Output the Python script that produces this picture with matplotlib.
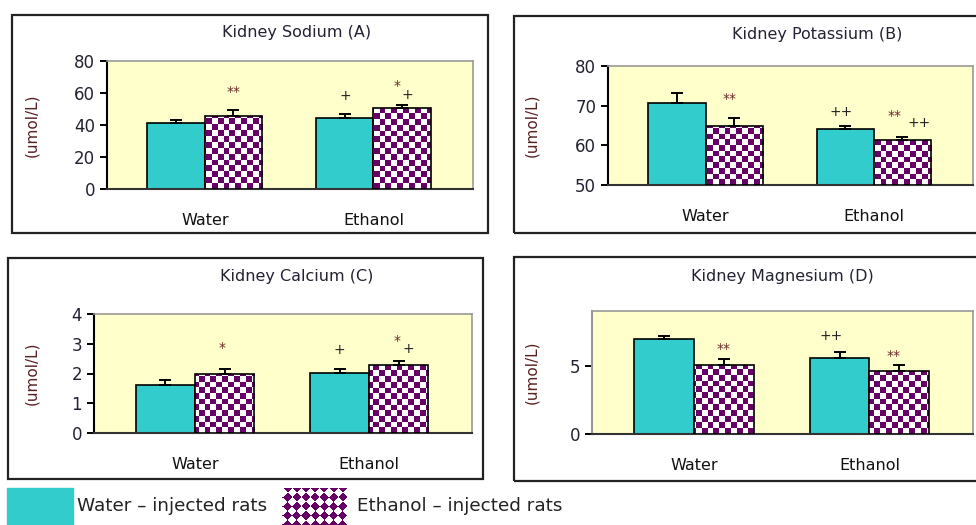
import numpy as np
import matplotlib.pyplot as plt
from matplotlib.patches import Rectangle
from matplotlib.colors import ListedColormap

groups = ["Water", "Ethanol"]
series = ["Water – injected rats", "Ethanol – injected rats"]
titles = ["Kidney Sodium (A)", "Kidney Potassium (B)", "Kidney Calcium (C)", "Kidney Magnesium (D)"]

# means per group: [water-injected, ethanol-injected]
sodium = [[41.0, 45.7], [44.5, 50.5]]
sodium_err = [[2.2, 3.6], [2.3, 2.1]]
potassium = [[70.6, 65.0], [64.1, 61.3]]
potassium_err = [[2.5, 1.9], [0.9, 0.9]]
calcium = [[1.63, 1.97], [2.02, 2.28]]
calcium_err = [[0.15, 0.19], [0.14, 0.14]]
magnesium = [[6.94, 5.05], [5.58, 4.64]]
magnesium_err = [[0.26, 0.41], [0.42, 0.41]]

yticks = [[0, 20, 40, 60, 80], [50, 60, 70, 80], [0, 1, 2, 3, 4], [0, 5]]
ylims = [(0, 80), (50, 80), (0, 4), (0, 9)]

# significance marks: (group, series, text)
sodium_marks = [(0, 1, "**"), (1, 0, "+"), (1, 1, "*"), (1, 1, "+")]
potassium_marks = [(0, 1, "**"), (1, 0, "++"), (1, 1, "**"), (1, 1, "++")]
calcium_marks = [(0, 1, "*"), (1, 0, "+"), (1, 1, "*"), (1, 1, "+")]
magnesium_marks = [(0, 1, "**"), (1, 0, "++"), (1, 1, "**")]

# layout (pixels), kept apart from the data
W, H = 976, 525
axes_px = [(107, 61, 473, 189), (608, 66, 973, 185), (94, 314, 472, 433), (592, 311, 973, 434)]
boxes_px = [(12, 15, 488, 233), (514, 16, 990, 233), (8, 258, 483, 479), (514, 257, 990, 481)]
title_px = [(297, 33), (817, 35), (297, 277), (782, 277)]
ylabel_x = [32, 532, 32, 532]
mark_offsets = [
    [(0, 18), (0, 18), (-5, 19), (5, 10)],
    [(-5, 19), (-4, 14), (-8, 21), (17, 14)],
    [(-3, 21), (0, 19), (-2, 20), (9, 12)],
    [(0, 10), (-8, 16), (-6, 9)],
]
left_spine = ["black", "black", "black", "#999999"]

cyan = "#33CCCC"
purple = "#660066"
bg = "#FFFFCC"
checker_cmap = ListedColormap(["white", purple])

plt.rcParams['font.family'] = ['DejaVu Sans']
fig = plt.figure(figsize=(W / 100, H / 100), dpi=100)

for (x0, y0, x1, y1) in boxes_px:
    fig.patches.append(Rectangle((x0 / W, 1 - y1 / H), (x1 - x0) / W, (y1 - y0) / H,
                                 transform=fig.transFigure, fill=False, ec="#222222", lw=1.6))

panels = [(sodium, sodium_err, sodium_marks), (potassium, potassium_err, potassium_marks),
          (calcium, calcium_err, calcium_marks), (magnesium, magnesium_err, magnesium_marks)]

width = 0.34
x = np.arange(len(groups))
for i, (vals, errs, marks) in enumerate(panels):
    x0, y0, x1, y1 = axes_px[i]
    ax = fig.add_axes([x0 / W, 1 - y1 / H, (x1 - x0) / W, (y1 - y0) / H])
    ax.set_facecolor(bg)
    vals = np.array(vals)
    errs = np.array(errs)
    base = ylims[i][0]
    pos = [x - width / 2, x + width / 2]

    ax.bar(pos[0], vals[:, 0] - base, width, bottom=base, color=cyan, edgecolor="black", lw=1.2, zorder=2)
    ax.bar(pos[1], vals[:, 1] - base, width, bottom=base, color="white", edgecolor="none", zorder=2)
    edges = ax.bar(pos[1], vals[:, 1] - base, width, bottom=base, facecolor="none",
                   edgecolor="black", lw=1.2, zorder=4)
    # checkerboard fill, clipped to each bar
    nx = int(round((x1 - x0) / 5.8))
    ny = int(round((y1 - y0) / 5.8))
    board = np.add.outer(np.arange(ny), np.arange(nx)) % 2
    for b in edges:
        im = ax.imshow(board, extent=(0, 1, 0, 1), transform=ax.transAxes, cmap=checker_cmap,
                       aspect="auto", interpolation="nearest", zorder=3)
        im.set_clip_path(b)

    for s in range(2):
        ax.errorbar(pos[s], vals[:, s], yerr=[np.zeros(2), errs[:, s]], fmt="none",
                    ecolor="black", elinewidth=1.4, capsize=4.5, capthick=1.4, zorder=5)

    for (g, s, txt), (dx, dy) in zip(marks, mark_offsets[i]):
        col = "#6b2a2a" if "*" in txt else "#222222"
        ax.annotate(txt, (pos[s][g], vals[g, s] + errs[g, s]), xytext=(dx, dy),
                    textcoords="offset pixels", ha="center", va="center", fontsize=10, color=col, zorder=6)

    ax.set_xlim(-0.58, 1.59)
    ax.set_ylim(*ylims[i])
    ax.set_yticks(yticks[i])
    ax.set_xticks(x)
    ax.set_xticklabels(groups)
    ax.tick_params(axis="x", length=0, pad=17, labelsize=11.5, labelcolor="#111111")
    ax.tick_params(axis="y", direction="out", length=5, width=1.4, labelsize=12, labelcolor="#222233")
    for side in ["top", "right"]:
        ax.spines[side].set_color("#999999")
        ax.spines[side].set_linewidth(1.2)
    ax.spines["bottom"].set_color("#333333")
    ax.spines["bottom"].set_linewidth(1.5)
    ax.spines["left"].set_color(left_spine[i])
    ax.spines["left"].set_linewidth(1.5)

    tx, ty = title_px[i]
    fig.text(tx / W, 1 - ty / H, titles[i], ha="center", va="center", fontsize=11.5, color="#222233")
    fig.text(ylabel_x[i] / W, 1 - ((y0 + y1) / 2) / H, "(umol/L)", rotation=90,
             ha="center", va="center", fontsize=11, color="#5a1f1f")

# legend
lax = fig.add_axes([282 / W, 0, 65 / W, 37 / H])
yy, xx = np.mgrid[0:37, 0:65]
diamonds = (np.floor((xx + yy) / 9.2) + np.floor((xx - yy + 100) / 9.2)) % 2
lax.imshow(diamonds, cmap=checker_cmap, aspect="auto", interpolation="nearest")
lax.axis("off")
fig.patches.append(Rectangle((7 / W, 0), 66 / W, 37 / H, transform=fig.transFigure, color=cyan))
fig.text(77 / W, 1 - 506 / H, series[0], ha="left", va="center", fontsize=13.2, color="#222222")
fig.text(357 / W, 1 - 506 / H, series[1], ha="left", va="center", fontsize=13.2, color="#222222")

fig.savefig("out.png", dpi=100)
